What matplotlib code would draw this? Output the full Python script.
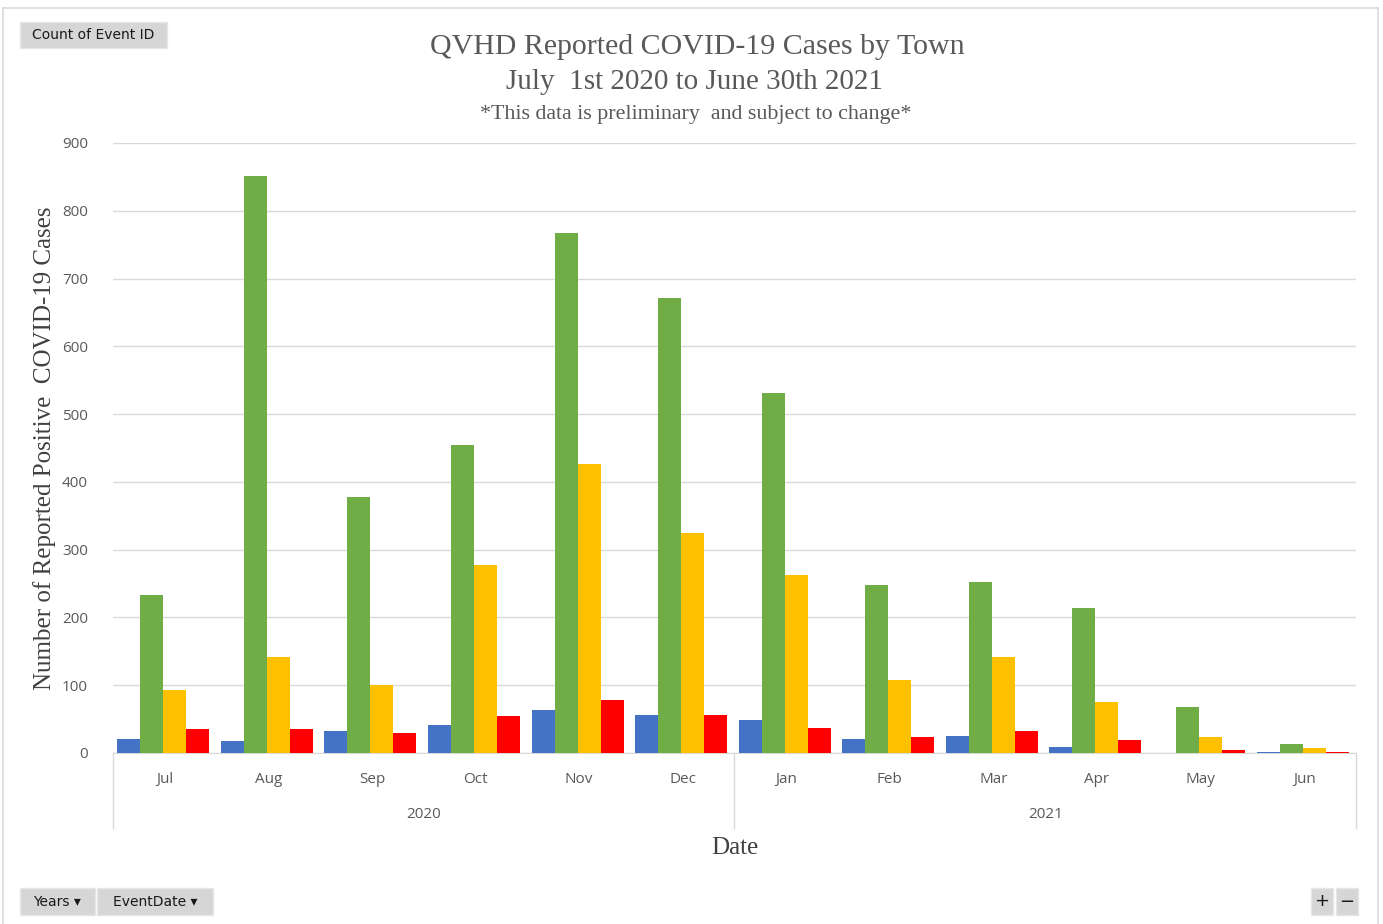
import numpy as np
import matplotlib.pyplot as plt
from matplotlib.patches import Rectangle
from matplotlib.lines import Line2D
import matplotlib.transforms as mtransforms

months = ["Jul", "Aug", "Sep", "Oct", "Nov", "Dec",
          "Jan", "Feb", "Mar", "Apr", "May", "Jun"]
years = ["2020", "2021"]
months_per_year = [6, 6]

# counts per town (no legend on the original chart)
bethany = [20, 18, 32, 42, 63, 56, 49, 20, 25, 9, 0, 2]
hamden = [233, 851, 377, 455, 767, 672, 531, 248, 252, 214, 68, 14]
north_haven = [93, 141, 101, 278, 427, 325, 262, 108, 142, 75, 24, 7]
woodbridge = [35, 35, 30, 54, 78, 56, 37, 23, 32, 19, 4, 2]

series = [bethany, hamden, north_haven, woodbridge]
colors = ["#4472C4", "#70AD47", "#FFC000", "#FF0000"]

W, H = 1383, 924
fig = plt.figure(figsize=(W / 100, H / 100), dpi=100)

# axes placed in pixel units of the reference
left, right, top, bottom = 113, 1356, 143, 753
ax = fig.add_axes([left / W, 1 - bottom / H, (right - left) / W, (bottom - top) / H])

x = np.arange(len(months))
width = 0.222
for i, (vals, c) in enumerate(zip(series, colors)):
    ax.bar(x + (i - 1.5) * width - 0.015, vals, width=width, color=c, zorder=3)

ax.set_xlim(-0.5, len(months) - 0.5)
ax.set_ylim(0, 900)
ax.set_yticks(range(0, 901, 100))
ax.grid(axis="y", color="#d9d9d9", linewidth=1, zorder=0)
for s in ["top", "right", "left"]:
    ax.spines[s].set_visible(False)
ax.spines["bottom"].set_color("#d9d9d9")
ax.tick_params(axis="y", length=0, pad=18, labelsize=11, labelcolor="#595959")
ax.set_xticks(x)
ax.set_xticklabels(months, fontsize=11, color="#595959")
ax.tick_params(axis="x", length=0, pad=14)
for lab in ax.get_xticklabels() + ax.get_yticklabels():
    lab.set_family("Open Sans")

# year level of the category axis
trans = mtransforms.blended_transform_factory(ax.transData, ax.transAxes)
low = -(828 - bottom) / (bottom - top)
edges = np.concatenate([[0], np.cumsum(months_per_year)]) - 0.5
for e in edges:
    ax.add_line(Line2D([e, e], [0, low], transform=trans, color="#d9d9d9",
                       linewidth=1, clip_on=False))
year_y = -(815 - bottom) / (bottom - top)
for yr, a, b in zip(years, edges[:-1], edges[1:]):
    ax.text((a + b) / 2, year_y, yr, transform=trans, ha="center", va="center",
            fontsize=11, color="#595959", family="Open Sans")

serif = "Liberation Serif"
ax.text(0.5, -(848 - bottom) / (bottom - top), "Date", transform=ax.transAxes,
        ha="center", va="center", family=serif, fontsize=18, color="#404040")
ax.text(-(left - 45) / (right - left), 0.5, "Number of Reported Positive  COVID-19 Cases",
        transform=ax.transAxes, rotation=90, ha="center", va="center", family=serif,
        fontsize=18, color="#404040")

# titles
fig.text(697 / W, 1 - 47 / H, "QVHD Reported COVID-19 Cases by Town", ha="center", va="center",
         fontsize=21.5, color="#595959", family=serif)
fig.text(695 / W, 1 - 82 / H, "July  1st 2020 to June 30th 2021", ha="center", va="center",
         fontsize=21, color="#595959", family=serif)
fig.text(696 / W, 1 - 115 / H, "*This data is preliminary  and subject to change*", ha="center",
         va="center", fontsize=15.8, color="#595959", family=serif)

# outer frame
frame_kw = dict(color="#d9d9d9", linewidth=1.2, transform=fig.transFigure)
fig.add_artist(Line2D([3 / W, 1378 / W], [1 - 8 / H, 1 - 8 / H], **frame_kw))
fig.add_artist(Line2D([3 / W, 3 / W], [0, 1 - 8 / H], **frame_kw))
fig.add_artist(Line2D([1378 / W, 1378 / W], [0, 1 - 8 / H], **frame_kw))


def button(x0, y0, x1, y1, label, size=10):
    fig.add_artist(Rectangle((x0 / W, 1 - y1 / H), (x1 - x0) / W, (y1 - y0) / H,
                             transform=fig.transFigure, facecolor="#d6d6d6",
                             edgecolor="#e6e6e6", linewidth=1))
    fig.text((x0 + x1) / 2 / W, 1 - (y0 + y1) / 2 / H, label, ha="center", va="center",
             fontsize=size, color="#1a1a1a", family="DejaVu Sans")


button(20, 22, 167, 48, "Count of Event ID")
button(20, 888, 95, 915, "Years \u25BE")
button(97, 888, 213, 915, "EventDate \u25BE")
button(1311, 888, 1333, 915, "+", size=13)
button(1336, 888, 1358, 915, "\u2212", size=13)

fig.savefig("out.png", dpi=100)
